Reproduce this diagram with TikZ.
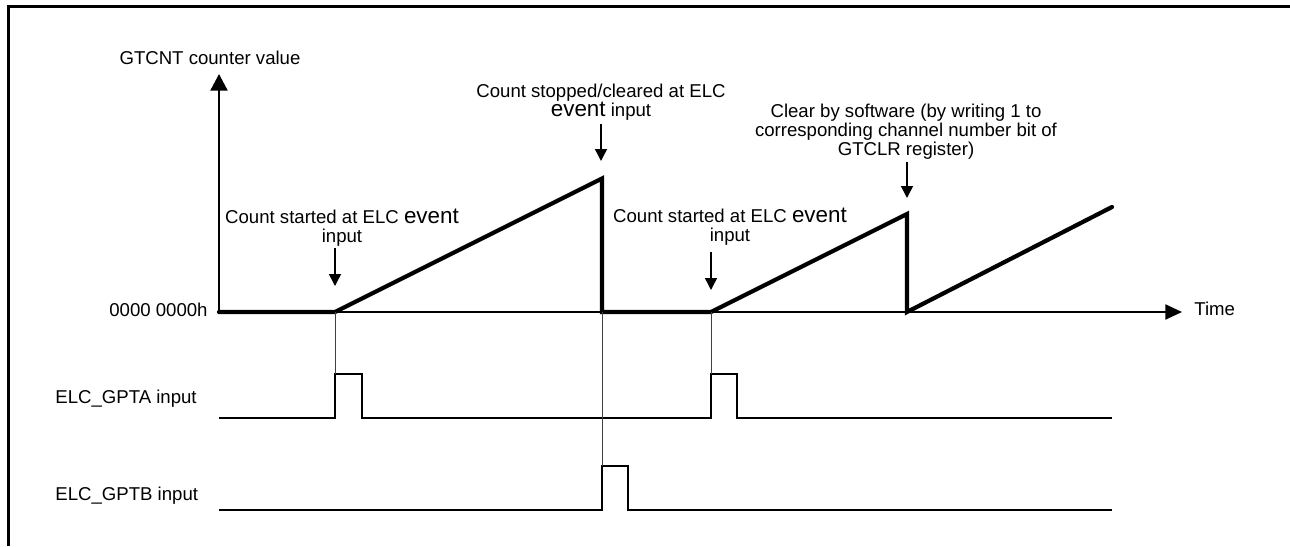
\documentclass[tikz,border=0pt]{standalone}
\usepackage{fontspec}
\setmainfont{Liberation Sans}
\usetikzlibrary{arrows.meta}
\newcommand\bigev[1]{{\fontsize{11.2}{9.6}\selectfont #1}}
\begin{document}
\begin{tikzpicture}[x=0.5pt,y=-0.5pt,
  lbl/.style={font=\fontsize{9.3}{9.6}\selectfont, inner sep=0pt},
  ann/.style={lbl, align=center, anchor=south},
  frame/.style={line width=1.65pt},
  axis/.style={line width=1pt},
  sig/.style={line width=2.1pt, line join=miter, line cap=round},
  pulse/.style={line width=0.8pt},
  guide/.style={line width=0.45pt, black!75},
  evarrow/.style={line width=0.75pt, -{Triangle[length=6pt,width=6pt]}},
  bigtip/.style={-{Triangle[length=8.3pt,width=8.5pt]}},
  timetip/.style={-{Triangle[length=8.3pt,width=7.5pt]}}]
\useasboundingbox (0,0) rectangle (1290,546);

% frame
\coordinate (fbl) at (8.3,546);
\coordinate (ftl) at (8.3,6.7);
\coordinate (ftr) at (1290,6.7);
\draw[frame] (fbl) -- (ftl) -- (ftr);

% axes
\coordinate (O) at (219,312);
\coordinate (Ytop) at (219,74);
\coordinate (Tend) at (1182,312);
\draw[axis,bigtip] (O) -- (Ytop);
\draw[axis,timetip] (O) -- (Tend);

% counter waveform
\coordinate (s1) at (335,312);
\coordinate (p1) at (602,178.5);
\coordinate (d1) at (602,312);
\coordinate (s2) at (711,312);
\coordinate (p2) at (907,214);
\coordinate (d2) at (907,312);
\coordinate (e3) at (1112,207);
\draw[sig] (O) -- (s1) -- (p1) -- (d1) -- (s2) -- (p2) -- (d2) -- (e3);

% ELC_GPTA waveform
\coordinate (a0) at (219,418);
\coordinate (a1l) at (335,418);
\coordinate (a1h) at (335,374);
\coordinate (a1h2) at (362,374);
\coordinate (a1l2) at (362,418);
\coordinate (a2l) at (711,418);
\coordinate (a2h) at (711,374);
\coordinate (a2h2) at (737,374);
\coordinate (a2l2) at (737,418);
\coordinate (aend) at (1112,418);
\draw[pulse] (a0) -- (a1l) -- (a1h) -- (a1h2) -- (a1l2) -- (a2l) -- (a2h) -- (a2h2) -- (a2l2) -- (aend);

% ELC_GPTB waveform
\coordinate (b0) at (219,510);
\coordinate (b1l) at (602,510);
\coordinate (b1h) at (602,466);
\coordinate (b1h2) at (628,466);
\coordinate (b1l2) at (628,510);
\coordinate (bend) at (1112,510);
\draw[pulse] (b0) -- (b1l) -- (b1h) -- (b1h2) -- (b1l2) -- (bend);

% guide lines
\draw[guide] (s1) -- (a1h);
\draw[guide] (d1) -- (b1h);
\draw[guide] (s2) -- (a2h);

% labels
\node[lbl, anchor=base] (ylab) at (210,64) {GTCNT counter value};
\node[lbl, anchor=base east] (zero) at (208,316) {0000 0000h};
\node[lbl, anchor=base west] (time) at (1194,315) {Time};
\node[lbl, anchor=base west] (gpta) at (55,403) {ELC\_GPTA input};
\node[lbl, anchor=base west] (gptb) at (55,500) {ELC\_GPTB input};

% annotations
\node[ann] (n1) at (342,247) {Count started at ELC \bigev{event}\\input};
\coordinate (n1a) at (335,248);
\coordinate (n1b) at (335,286);
\draw[evarrow] (n1a) -- (n1b);

\node[ann] (n2) at (730,246) {Count started at ELC \bigev{event}\\input};
\coordinate (n2a) at (711,252);
\coordinate (n2b) at (711,290);
\draw[evarrow] (n2a) -- (n2b);

\node[ann] (n3) at (601,120.5) {Count stopped/cleared at ELC\\\bigev{event} input};
\coordinate (n3a) at (601,124);
\coordinate (n3b) at (601,161);
\draw[evarrow] (n3a) -- (n3b);

\node[ann] (n4) at (906,160) {Clear by software (by writing 1 to\\corresponding channel number bit of\\GTCLR register)};
\coordinate (n4a) at (907,162);
\coordinate (n4b) at (907,198);
\draw[evarrow] (n4a) -- (n4b);
\end{tikzpicture}
\end{document}
